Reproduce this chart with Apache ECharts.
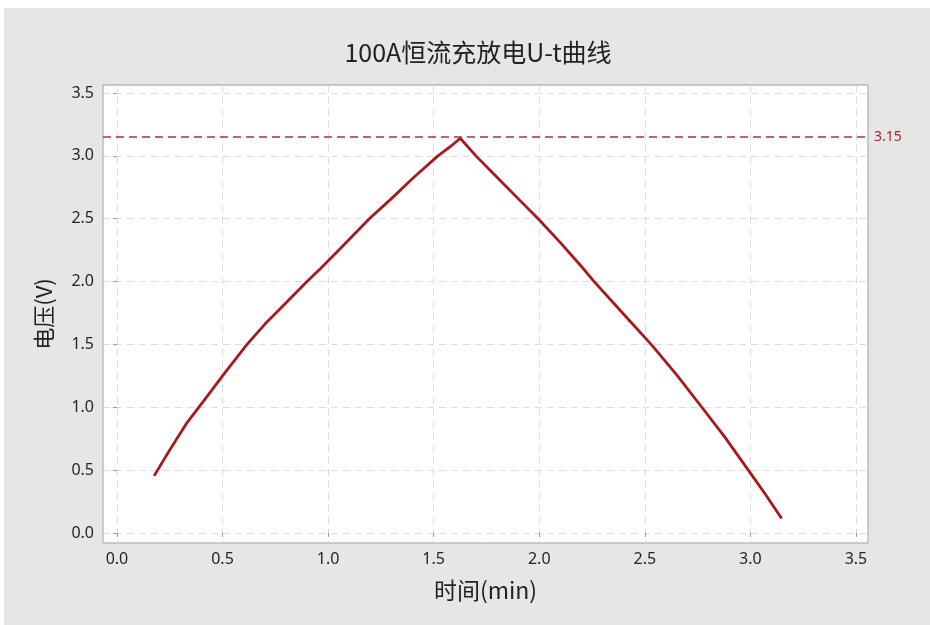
<!DOCTYPE html>
<html>
<head>
<meta charset="utf-8">
<script src="https://cdn.jsdelivr.net/npm/echarts@6/dist/echarts.min.js"></script>
<style>
  html, body { margin: 0; padding: 0; background: #ffffff; width: 930px; height: 625px; overflow: hidden; }
  #chart { position: absolute; left: 4px; top: 8px; width: 926px; height: 617px; }
</style>
</head>
<body>
<div id="chart"></div>
<script>
// Time (min) and voltage (V) samples of the 100 A charge / discharge run
var timeMin = [
  0.176, 0.25, 0.333, 0.42, 0.50, 0.616, 0.70, 0.80, 0.90, 0.962, 1.05, 1.195, 1.30, 1.40, 1.52, 1.58, 1.626,
  1.70, 1.80, 1.90, 1.995, 2.10, 2.20, 2.26, 2.40, 2.53, 2.65, 2.77, 2.88, 2.99, 3.07, 3.148
];
var voltage = [
  0.454, 0.66, 0.88, 1.07, 1.25, 1.50, 1.66, 1.83, 2.00, 2.10, 2.25, 2.50, 2.66, 2.82, 3.00, 3.075, 3.14,
  3.00, 2.83, 2.66, 2.50, 2.31, 2.12, 2.00, 1.74, 1.50, 1.26, 1.00, 0.76, 0.50, 0.31, 0.115
];
var peakLine = 3.15;
var xTicks = [0, 0.5, 1.0, 1.5, 2.0, 2.5, 3.0, 3.5];
var yTicks = [0, 0.5, 1.0, 1.5, 2.0, 2.5, 3.0, 3.5];

var series = timeMin.map(function (t, i) { return [t, voltage[i]]; });

var chart = echarts.init(document.getElementById('chart'));
var baseFont = "'Noto Sans', 'Noto Sans CJK SC', sans-serif";
var cjkFont = "'Noto Sans CJK SC', 'Noto Sans', sans-serif";

chart.setOption({
  backgroundColor: '#e6e6e6',
  animation: false,
  title: {
    text: '100A恒流充放电U-t曲线',
    left: 469,
    top: 27,
    textAlign: 'center',
    textStyle: { fontFamily: cjkFont, fontSize: 25, fontWeight: 'normal', color: '#222222' }
  },
  grid: {
    left: 99, top: 77, width: 765, height: 458,
    show: true, backgroundColor: '#ffffff', borderColor: '#a0a0a0', borderWidth: 1
  },
  xAxis: {
    type: 'value',
    min: -0.066, max: 3.557,
    name: '时间(min)',
    nameLocation: 'middle',
    nameGap: 36,
    nameTextStyle: { fontFamily: cjkFont, fontSize: 23, color: '#222222' },
    axisLine: { show: false },
    axisTick: { show: true, length: 4, customValues: xTicks, lineStyle: { color: '#999999' } },
    axisLabel: {
      customValues: xTicks, margin: 8,
      fontFamily: baseFont, fontSize: 16, color: '#252525',
      formatter: function (v) { return v.toFixed(1); }
    },
    splitLine: { show: true, lineStyle: { color: '#dcdcdc', type: [7, 5], width: 1 } }
  },
  yAxis: {
    type: 'value',
    min: -0.08, max: 3.564,
    name: '电压(V)',
    nameLocation: 'middle',
    nameGap: 48,
    nameTextStyle: { fontFamily: cjkFont, fontSize: 22, color: '#222222' },
    axisLine: { show: false },
    axisTick: { show: true, length: 4, customValues: yTicks, lineStyle: { color: '#999999' } },
    axisLabel: {
      customValues: yTicks, margin: 9,
      fontFamily: baseFont, fontSize: 16, color: '#252525',
      formatter: function (v) { return v.toFixed(1); }
    },
    splitLine: { show: true, lineStyle: { color: '#dcdcdc', type: [7, 5], width: 1 } }
  },
  series: [{
    type: 'line',
    data: series,
    showSymbol: false,
    smooth: false,
    lineStyle: { color: '#a61a1e', width: 2.8 },
    markLine: {
      silent: true,
      symbol: 'none',
      data: [{ yAxis: peakLine }],
      lineStyle: { color: '#a23636', type: [8, 5], width: 1.5 },
      label: {
        position: 'end', distance: 6,
        formatter: function () { return peakLine.toFixed(2); },
        fontFamily: baseFont, fontSize: 14, color: '#a02828'
      }
    }
  }]
});
</script>
</body>
</html>
